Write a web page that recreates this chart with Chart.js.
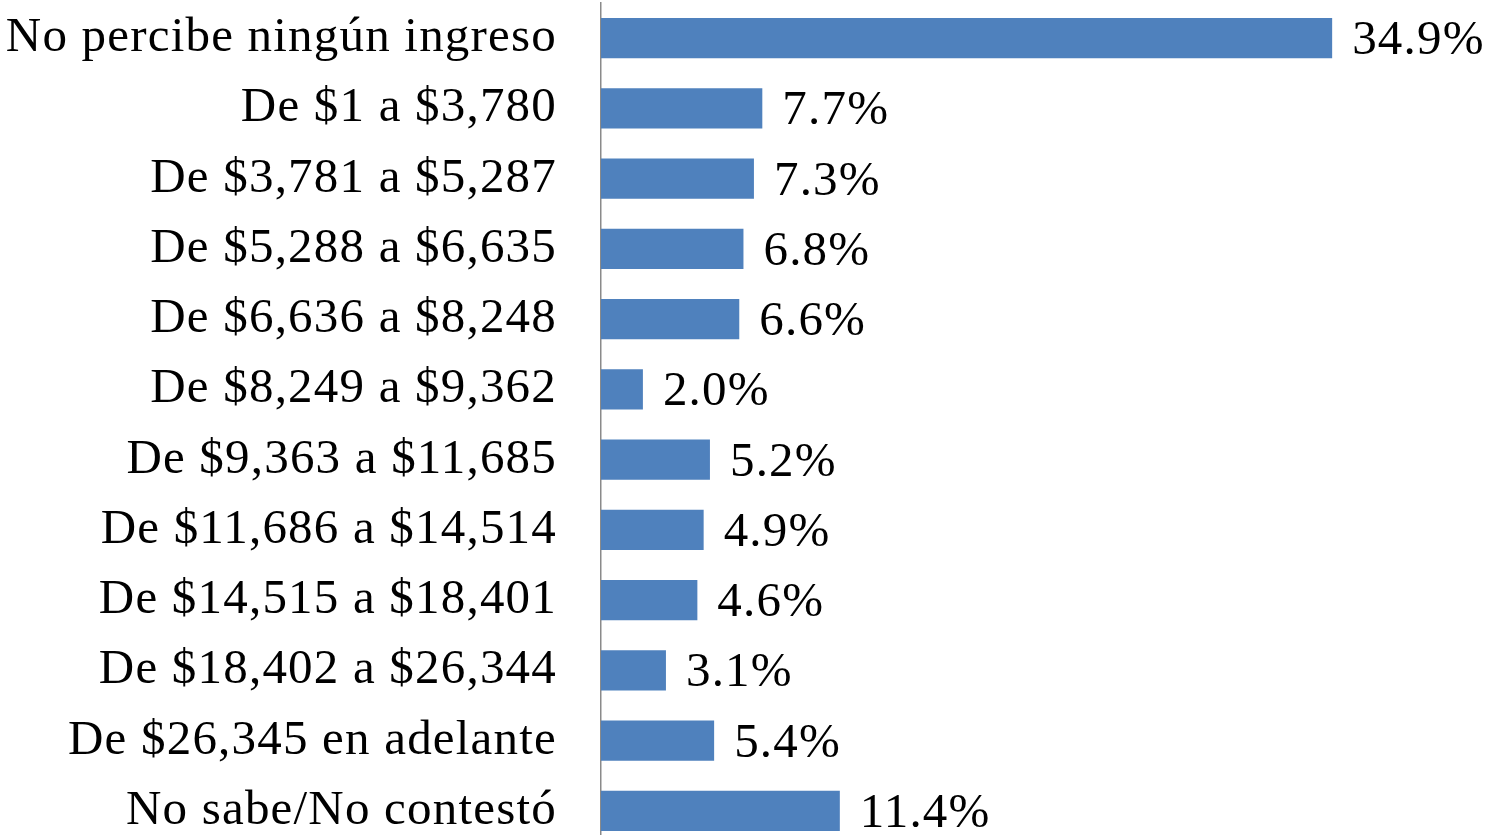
<!DOCTYPE html>
<html>
<head>
<meta charset="utf-8">
<script src="https://cdn.jsdelivr.net/npm/chart.js@4.4.1/dist/chart.umd.min.js"></script>
<style>
  html, body { margin: 0; padding: 0; background: #fff; overflow: hidden; }
  #wrap { width: 1488px; height: 850px; }
</style>
</head>
<body>
<div id="wrap"><canvas id="c" width="1488" height="850"></canvas></div>
<script>
// Ingreso mensual del hogar (porcentaje de respuestas)
const categories = [
  "No percibe ningún ingreso",
  "De $1 a $3,780",
  "De $3,781 a $5,287",
  "De $5,288 a $6,635",
  "De $6,636 a $8,248",
  "De $8,249 a $9,362",
  "De $9,363 a $11,685",
  "De $11,686 a $14,514",
  "De $14,515 a $18,401",
  "De $18,402 a $26,344",
  "De $26,345 en adelante",
  "No sabe/No contestó"
];
const values = [34.9, 7.7, 7.3, 6.8, 6.6, 2.0, 5.2, 4.9, 4.6, 3.1, 5.4, 11.4];
const valueLabels = values.map(v => v.toFixed(1) + "%");

const FONT = { family: "'Liberation Serif', 'Times New Roman', serif", size: 49 };
const SPACING = "1.2px";

// Writes the percentage to the right of each bar
const barValueLabels = {
  id: "barValueLabels",
  afterDatasetsDraw(chart) {
    const ctx = chart.ctx;
    const meta = chart.getDatasetMeta(0);
    ctx.save();
    ctx.letterSpacing = SPACING;
    ctx.font = FONT.size + "px " + FONT.family;
    ctx.fillStyle = "#000";
    ctx.textAlign = "left";
    ctx.textBaseline = "middle";
    meta.data.forEach((bar, i) => {
      ctx.fillText(valueLabels[i], bar.x + 20, bar.y + 3);
    });
    ctx.restore();
  }
};

// Wider tracking for all text drawn on the canvas
const tracking = {
  id: "tracking",
  beforeInit(chart) { chart.ctx.letterSpacing = SPACING; },
  beforeDraw(chart) { chart.ctx.letterSpacing = SPACING; }
};

new Chart(document.getElementById("c"), {
  type: "bar",
  data: {
    labels: categories,
    datasets: [{
      data: values,
      backgroundColor: "#4F81BD",
      borderWidth: 0,
      barPercentage: 0.57,
      categoryPercentage: 1.0
    }]
  },
  options: {
    indexAxis: "y",
    responsive: false,
    animation: false,
    events: [],
    layout: { padding: { top: 3, bottom: 4, left: 0, right: 49 } },
    plugins: { legend: { display: false }, tooltip: { enabled: false } },
    scales: {
      x: { display: false, min: 0, max: 40 },
      y: {
        afterFit(scale) {
          scale.width = 601;
          scale.paddingTop = 0;
          scale.paddingBottom = 0;
        },
        grid: { display: false, drawTicks: false },
        border: { display: true, color: "#8a8a8a", width: 1.5 },
        ticks: { color: "#000", font: FONT, padding: 44, autoSkip: false }
      }
    }
  },
  plugins: [tracking, barValueLabels]
});
</script>
</body>
</html>
